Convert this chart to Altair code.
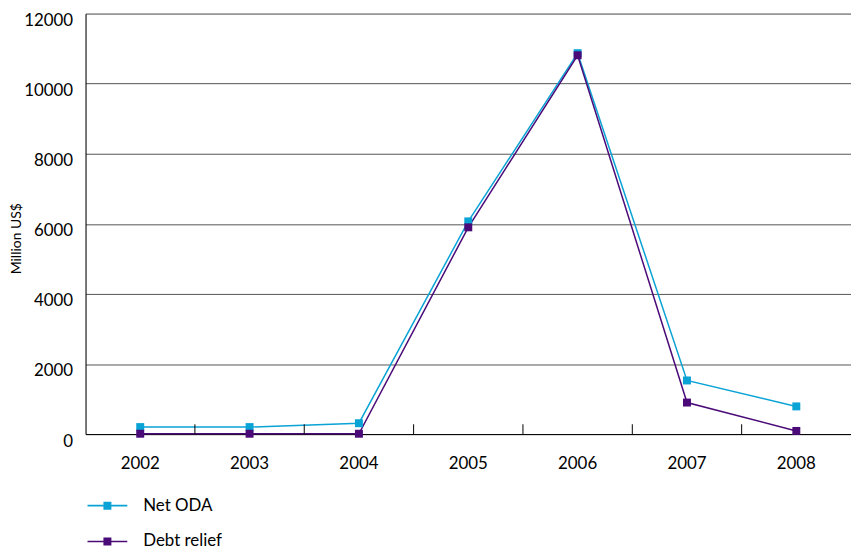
import altair as alt
import pandas as pd

years = ["2002", "2003", "2004", "2005", "2006", "2007", "2008"]
net_oda = [200, 200, 310, 6070, 10870, 1530, 790]
debt_relief = [10, 10, 10, 5900, 10810, 900, 90]
series_names = ["Net ODA", "Debt relief"]
colors = ["#0aa3d6", "#4a0a78"]

rows = []
for name, vals in zip(series_names, [net_oda, debt_relief]):
    for y, v in zip(years, vals):
        rows.append({"year": y, "value": v, "series": name})
df = pd.DataFrame(rows)

tick_df = pd.DataFrame({"year": years[1:], "lo": [0] * 6, "hi": [280] * 6})

FONT = "Lato"
sym = "M-1,-0.04H1V0.04H-1Z M-0.2,-0.2H0.2V0.2H-0.2Z"

xenc = alt.X("year:N", sort=years, title=None,
             scale=alt.Scale(paddingInner=0, paddingOuter=0),
             axis=alt.Axis(ticks=False, labelAngle=0, labelPadding=22, domain=True,
                           domainColor="#000", labelFontSize=17, labelFont=FONT, labelColor="#000"))
yenc = alt.Y("value:Q", title="Million US$",
             scale=alt.Scale(domain=[0, 12000], nice=False),
             axis=alt.Axis(values=[0, 2000, 4000, 6000, 8000, 10000, 12000], ticks=False,
                           format="d", labelFlush=False,
                           grid=True, gridColor="#555", gridWidth=1, domainColor="#000",
                           labelPadding=13, labelOffset=7, labelFontSize=17, labelFont=FONT,
                           labelColor="#000", titleFont=FONT, titleFontSize=14,
                           titleFontWeight="normal", titleColor="#000",
                           titleX=-69, titleY=226, titleAngle=270, titleBaseline="middle"))

color = alt.Color("series:N", sort=series_names,
                  scale=alt.Scale(domain=series_names, range=colors),
                  legend=alt.Legend(title=None, orient="none", legendX=2, legendY=475,
                                    direction="vertical", symbolType=sym, symbolSize=1600,
                                    symbolStrokeWidth=0, labelFont=FONT, labelFontSize=17,
                                    labelColor="#000", rowPadding=8, labelOffset=16))

lines = alt.Chart(df).mark_line(strokeWidth=1.5).encode(
    x=xenc, y=yenc, color=color,
    order=alt.Order("series:N", sort="ascending"))
points = alt.Chart(df).mark_square(size=64, opacity=1, filled=True).encode(
    x=alt.X("year:N", sort=years), y="value:Q", color=alt.Color("series:N", legend=None))

ticks = alt.Chart(tick_df).mark_rule(color="#000", strokeWidth=1).encode(
    x=alt.X("year:N", sort=years, bandPosition=0),
    y="lo:Q", y2="hi:Q")

chart = alt.layer(lines, points, ticks).properties(
    width=770, height=423, autosize=alt.AutoSizeParams(type="none"),
    padding={"left": 78, "top": 4, "right": 0, "bottom": 116}
).configure_view(stroke=None).configure(background="white")

chart.save("out.html", embed_options={"renderer": "svg", "actions": False})
